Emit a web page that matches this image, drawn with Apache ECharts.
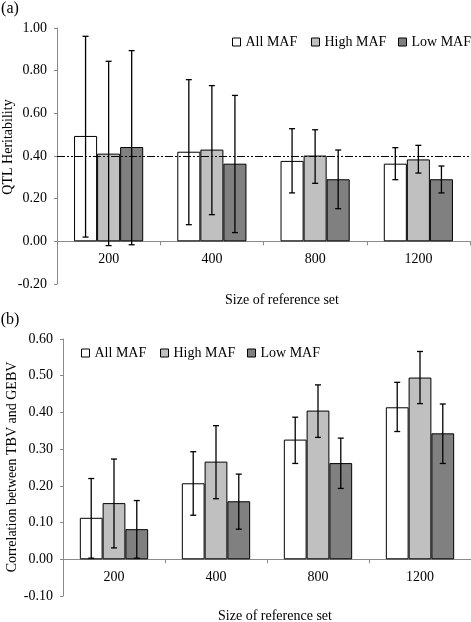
<!DOCTYPE html>
<html><head><meta charset="utf-8">
<script src="https://cdn.jsdelivr.net/npm/echarts@6/dist/echarts.min.js"></script>
<style>html,body{margin:0;padding:0;background:#fff}#c{width:471px;height:622px}</style>
</head><body><div id="c"></div>
<script>
const categories = ['200', '400', '800', '1200'];
const seriesNames = ['All MAF', 'High MAF', 'Low MAF'];
const seriesColors = ['#ffffff', '#c0c0c0', '#808080'];

// Panel (a): QTL heritability
const herAll = [0.494, 0.420, 0.377, 0.364];
const herHigh = [0.411, 0.430, 0.402, 0.384];
const herLow = [0.442, 0.364, 0.291, 0.291];
const herAllLo = [0.020, 0.078, 0.227, 0.289];
const herAllHi = [0.961, 0.758, 0.528, 0.439];
const herHighLo = [-0.020, 0.125, 0.272, 0.320];
const herHighHi = [0.844, 0.730, 0.523, 0.450];
const herLowLo = [-0.016, 0.041, 0.153, 0.227];
const herLowHi = [0.894, 0.684, 0.428, 0.353];
const herTarget = 0.40;

// Panel (b): correlation between TBV and GEBV
const corAll = [0.113, 0.207, 0.326, 0.414];
const corHigh = [0.153, 0.266, 0.405, 0.495];
const corLow = [0.082, 0.158, 0.262, 0.343];
const corAllLo = [0.003, 0.120, 0.261, 0.348];
const corAllHi = [0.220, 0.293, 0.387, 0.482];
const corHighLo = [0.031, 0.165, 0.332, 0.424];
const corHighHi = [0.273, 0.364, 0.475, 0.566];
const corLowLo = [0.003, 0.082, 0.193, 0.261];
const corLowHi = [0.160, 0.232, 0.330, 0.423];

const FONT = '"Liberation Serif", "DejaVu Serif", serif';
const AXIS_COLOR = '#8a8a8a';
const CAT_GAP = 0.33;

function errData(los, his) {
  const out = [];
  los.forEach((lo, s) => {
    lo.forEach((v, i) => out.push([i, v, his[s][i], s]));
  });
  return out;
}

function errRender(params, api) {
  const cat = api.value(0), s = api.value(3);
  const lo = api.coord([cat, api.value(1)]);
  const hi = api.coord([cat, api.value(2)]);
  const catW = api.size([1, 0])[0];
  const barW = catW * (1 - CAT_GAP) / 3;
  const x = lo[0] + (s - 1) * barW;
  const cap = 3;
  const st = { stroke: '#000', lineWidth: 1.3 };
  return {
    type: 'group',
    children: [
      { type: 'line', shape: { x1: x, y1: lo[1], x2: x, y2: hi[1] }, style: st },
      { type: 'line', shape: { x1: x - cap, y1: lo[1], x2: x + cap, y2: lo[1] }, style: st },
      { type: 'line', shape: { x1: x - cap, y1: hi[1], x2: x + cap, y2: hi[1] }, style: st }
    ]
  };
}

function barSeries(name, data, idx, color) {
  return {
    name: name, type: 'bar', data: data, z: 3,
    xAxisIndex: idx, yAxisIndex: idx,
    barGap: '0%', barCategoryGap: (CAT_GAP * 100) + '%',
    itemStyle: { color: color, borderColor: '#000', borderWidth: 1 },
    emphasis: { disabled: true }, silent: true
  };
}

// offset lifts the category axis from the grid bottom up to the zero line
function xAxisCfg(idx, offset) {
  return {
    type: 'category', gridIndex: idx, data: categories, offset: offset,
    axisLine: { onZero: false, lineStyle: { color: AXIS_COLOR, width: 1 } },
    axisTick: { show: true, length: 4, lineStyle: { color: AXIS_COLOR } },
    axisLabel: { color: '#000', fontFamily: FONT, fontSize: 14, margin: 11 }
  };
}

function yAxisCfg(idx, min, max, interval) {
  return {
    type: 'value', gridIndex: idx, min: min, max: max, interval: interval,
    axisLine: { show: true, lineStyle: { color: AXIS_COLOR, width: 1 } },
    axisTick: { show: true, length: 3, lineStyle: { color: AXIS_COLOR } },
    splitLine: { show: false },
    axisLabel: { color: '#000', fontFamily: FONT, fontSize: 14, margin: 10,
      formatter: v => v.toFixed(2) }
  };
}

function legendItem(name, left, top) {
  return {
    data: [name], left: left, top: top, padding: 0, icon: 'rect',
    itemWidth: 8, itemHeight: 8, itemGap: 0,
    itemStyle: { borderColor: '#000', borderWidth: 1 },
    textStyle: { color: '#000', fontFamily: FONT, fontSize: 14 }, selectedMode: false
  };
}

function textAt(text, x, y, rot, size) {
  return { type: 'text', x: x, y: y, rotation: rot || 0,
    style: { text: text, font: (size || 14) + 'px ' + FONT, fill: '#000', align: 'center', verticalAlign: 'middle' } };
}

const option = {
  animation: false,
  backgroundColor: '#fff',
  grid: [
    { left: 57, right: 1, top: 28, height: 256 },
    { left: 63, right: 0, top: 339, height: 257 }
  ],
  xAxis: [xAxisCfg(0, -256 / 6), xAxisCfg(1, -257 / 7)],
  yAxis: [yAxisCfg(0, -0.2, 1.0, 0.2), yAxisCfg(1, -0.1, 0.6, 0.1)],
  legend: [
    legendItem(seriesNames[0], 232, 35), legendItem(seriesNames[1], 311, 35), legendItem(seriesNames[2], 398, 35),
    legendItem(seriesNames[0], 81, 346), legendItem(seriesNames[1], 160, 346), legendItem(seriesNames[2], 247, 346)
  ],
  graphic: [
    textAt('(a)', 10, 9, 0, 16),
    textAt('(b)', 10, 320, 0, 16),
    textAt('QTL Heritability', 8, 147, Math.PI / 2),
    textAt('Correlation between TBV and GEBV', 12, 467, Math.PI / 2),
    textAt('Size of reference set', 282, 300),
    textAt('Size of reference set', 275, 616)
  ],
  series: [
    { type: 'line', data: [], xAxisIndex: 0, yAxisIndex: 0, z: 1, silent: true,
      markLine: { silent: true, symbol: 'none', label: { show: false },
        lineStyle: { color: '#000', width: 1, type: [8, 2, 2, 2, 2, 2] },
        data: [{ yAxis: herTarget }] } },
    barSeries(seriesNames[0], herAll, 0, seriesColors[0]),
    barSeries(seriesNames[1], herHigh, 0, seriesColors[1]),
    barSeries(seriesNames[2], herLow, 0, seriesColors[2]),
    barSeries(seriesNames[0], corAll, 1, seriesColors[0]),
    barSeries(seriesNames[1], corHigh, 1, seriesColors[1]),
    barSeries(seriesNames[2], corLow, 1, seriesColors[2]),
    { type: 'custom', xAxisIndex: 0, yAxisIndex: 0, renderItem: errRender, z: 10, silent: true,
      data: errData([herAllLo, herHighLo, herLowLo], [herAllHi, herHighHi, herLowHi]) },
    { type: 'custom', xAxisIndex: 1, yAxisIndex: 1, renderItem: errRender, z: 10, silent: true,
      data: errData([corAllLo, corHighLo, corLowLo], [corAllHi, corHighHi, corLowHi]) }
  ]
};

const chart = echarts.init(document.getElementById('c'));
chart.setOption(option);
</script>
</body></html>
